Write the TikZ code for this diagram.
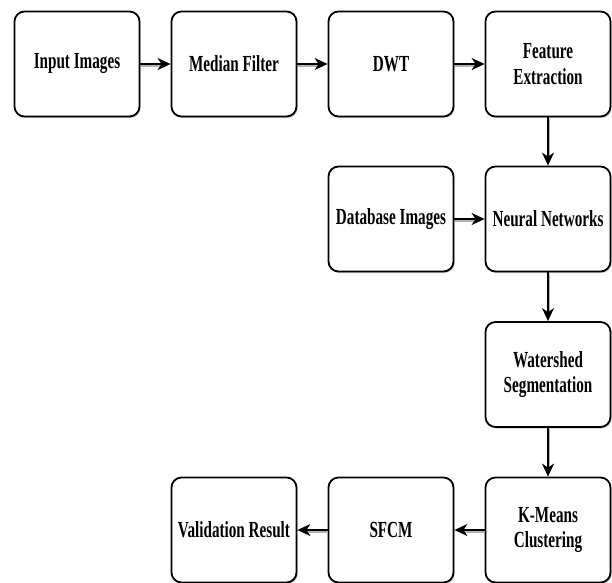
\documentclass[tikz,border=0pt]{standalone}
\usepackage{fontspec}
\setmainfont{Liberation Serif}[FakeStretch=0.66]
\usetikzlibrary{shadows,arrows.meta}
\begin{document}
\begin{tikzpicture}[x=1pt,y=1pt,
  stepbox/.style={draw=black, line width=1.8pt, rounded corners=10pt, fill=white,
    minimum width=125pt, minimum height=105pt, inner sep=2pt, align=center,
    font=\fontsize{23}{25.5}\selectfont\bfseries,
    drop shadow={shadow xshift=1.2pt, shadow yshift=-1.5pt, fill=black!35, opacity=0.6}},
  flow/.style={line width=1.8pt, -{Stealth[length=13pt,width=12pt,inset=4pt]},
    preaction={draw=black!30, line width=2.2pt, -, shorten >=5pt, transform canvas={xshift=0.6pt,yshift=-1.4pt}}}
]
\useasboundingbox (0,0) rectangle (612,-582);
\fill[white] (0,0) rectangle (612,-582);
\node[stepbox] (in) at (77,-64) {Input Images};
\node[stepbox] (med) at (234,-64) {Median Filter};
\node[stepbox] (dwt) at (391,-64) {DWT};
\node[stepbox] (fe) at (548,-64) {Feature\\Extraction};
\node[stepbox] (db) at (391,-219) {Database Images};
\node[stepbox] (nn) at (548,-219) {Neural Networks};
\node[stepbox] (ws) at (548,-374.5) {Watershed\\Segmentation};
\node[stepbox] (km) at (548,-530) {K-Means\\Clustering};
\node[stepbox] (sf) at (391,-530) {SFCM};
\node[stepbox] (vr) at (234,-530) {Validation Result};
\draw[flow] (in) -- (med);
\draw[flow] (med) -- (dwt);
\draw[flow] (dwt) -- (fe);
\draw[flow] (fe) -- (nn);
\draw[flow] (db) -- (nn);
\draw[flow] (nn) -- (ws);
\draw[flow] (ws) -- (km);
\draw[flow] (km) -- (sf);
\draw[flow] (sf) -- (vr);
\end{tikzpicture}
\end{document}
